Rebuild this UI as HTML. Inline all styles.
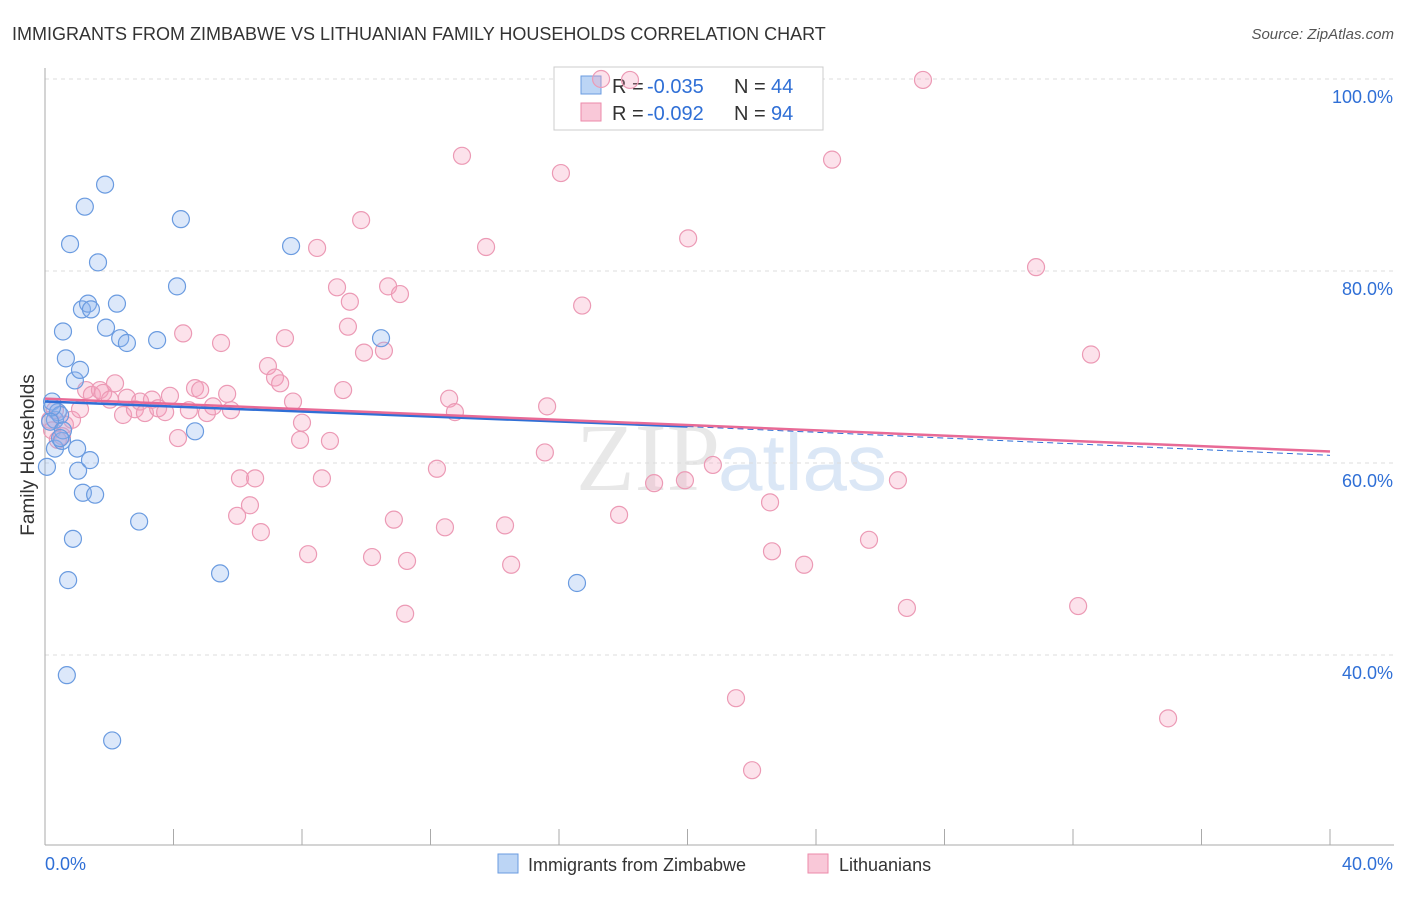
<!DOCTYPE html>
<html><head><meta charset="utf-8"><style>
body{margin:0;background:#fff;font-family:"Liberation Sans",sans-serif;}
</style></head><body>
<svg id="c" width="1406" height="892" xmlns="http://www.w3.org/2000/svg">
<text x="12" y="40" font-size="18" fill="#333">IMMIGRANTS FROM ZIMBABWE VS LITHUANIAN FAMILY HOUSEHOLDS CORRELATION CHART</text>
<text x="1394" y="39" font-size="15" fill="#555" font-style="italic" text-anchor="end">Source: ZipAtlas.com</text>
<text x="720" y="490" font-size="96" fill="#e8e8e8" font-family="Liberation Serif,serif" text-anchor="end">ZIP</text>
<text x="718" y="490" font-size="80" fill="#dbe7f6">atlas</text>
<g id="grid"></g>
<g id="axes"></g>
<g>
<rect x="554" y="67" width="269" height="63" fill="#fff" stroke="#ccc"/>
<rect x="581" y="76" width="20" height="18" fill="#bcd5f5" stroke="#6a9be0"/>
<rect x="581" y="103" width="20" height="18" fill="#f9c8d8" stroke="#ec8aaa"/>
<text x="612" y="93" font-size="20" fill="#333">R =</text>
<text x="647" y="93" font-size="20" fill="#2f6fd6">-0.035</text>
<text x="734" y="93" font-size="20" fill="#333">N =</text>
<text x="771" y="93" font-size="20" fill="#2f6fd6">44</text>
<text x="612" y="120" font-size="20" fill="#333">R =</text>
<text x="647" y="120" font-size="20" fill="#2f6fd6">-0.092</text>
<text x="734" y="120" font-size="20" fill="#333">N =</text>
<text x="771" y="120" font-size="20" fill="#2f6fd6">94</text>
</g>
<g id="pts"></g>
<g id="lines"></g>
<text x="34" y="455" font-size="19" fill="#333" text-anchor="middle" transform="rotate(-90 34 455)">Family Households</text>
<g>
<rect x="498" y="854" width="20" height="19" fill="#bcd5f5" stroke="#6a9be0"/>
<text x="528" y="871" font-size="18" fill="#333">Immigrants from Zimbabwe</text>
<rect x="808" y="854" width="20" height="19" fill="#f9c8d8" stroke="#ec8aaa"/>
<text x="839" y="871" font-size="18" fill="#333">Lithuanians</text>
</g>
</svg>
<script>
const blueX=[0.06,0.22,0.31,0.40,0.47,0.31,0.53,0.56,0.65,0.78,0.87,0.72,0.68,0.93,1.00,1.03,1.09,1.15,1.24,1.18,1.34,1.43,1.56,1.40,1.65,1.87,1.90,2.24,2.34,2.55,2.09,2.93,3.49,4.23,4.11,4.67,5.45,7.66,10.46,16.56,0.22,0.16,0.56,0.47];
const blueY=[59.6,66.4,64.5,65.3,65.0,61.5,62.3,73.7,70.9,82.8,52.1,47.8,37.9,68.6,61.5,59.2,69.7,76.0,86.7,56.9,76.6,76.0,56.7,60.3,80.9,89.0,74.1,76.6,73.0,72.5,31.1,53.9,72.8,85.4,78.4,63.3,48.5,82.6,73.0,47.5,65.8,64.3,63.4,62.6];
const pinkX=[0.16,0.22,0.31,0.40,0.53,0.62,0.84,1.09,1.28,1.46,1.71,1.81,2.02,2.18,2.43,2.55,2.80,2.96,3.11,3.33,3.52,3.74,3.89,4.14,4.30,4.48,4.67,4.83,5.04,5.23,5.48,5.67,5.79,6.07,6.38,6.54,5.98,6.72,6.94,7.16,7.32,7.47,7.72,8.00,7.94,8.19,8.47,8.62,8.87,9.09,9.28,9.43,9.49,9.84,9.93,10.18,10.55,10.68,10.86,11.05,11.27,11.21,12.20,12.45,12.58,12.76,12.98,13.73,14.32,14.51,15.56,15.63,16.06,16.72,17.87,17.31,18.21,18.96,19.92,20.02,20.79,21.51,22.01,22.57,22.63,23.63,24.50,25.65,26.55,26.83,27.33,30.85,32.16,32.56,34.96];
const pinkY=[64.5,63.4,65.5,62.4,62.8,64.0,64.5,65.6,67.6,67.1,67.6,67.3,66.6,68.3,65.0,66.8,65.6,66.4,65.2,66.6,65.7,65.3,67.0,62.6,73.5,65.5,67.8,67.6,65.2,65.9,72.5,67.2,65.5,58.4,55.6,58.4,54.5,52.8,70.1,68.9,68.3,73.0,66.4,64.2,62.4,50.5,82.4,58.4,62.3,78.3,67.6,74.2,76.8,85.3,71.5,50.2,71.7,78.4,54.1,77.6,49.8,44.3,59.4,53.3,66.7,65.3,92.0,82.5,53.5,49.4,61.1,65.9,90.2,76.4,54.6,100.0,99.9,57.9,58.2,83.4,59.8,35.5,28.0,55.9,50.8,49.4,91.6,52.0,58.2,44.9,99.9,80.4,45.1,71.3,33.4];
const X0=45,X1=1330,YT=79;
const xs=v=>X0+(X1-X0)*v/40;
const ys=v=>YT+(100-v)*9.6;
const NS='http://www.w3.org/2000/svg';
function mk(t,a,p){const e=document.createElementNS(NS,t);for(const k in a)e.setAttribute(k,a[k]);p.appendChild(e);return e;}
const grid=document.getElementById('grid'),axes=document.getElementById('axes');
const yTicks=[100,80,60,40];
const yLabels=['100.0%','80.0%','60.0%','40.0%'];
yTicks.forEach((v,i)=>{
 const l=mk('line',{x1:X0,x2:1394,y1:ys(v),y2:ys(v),stroke:'#ddd','stroke-dasharray':'4,4'},grid);
 
 
 const t=mk('text',{x:1393,y:ys(v)+24,'font-size':18,fill:'#2f6fd6','text-anchor':'end'},axes);
 t.textContent=yLabels[i];
 
 
});
mk('line',{x1:X0,x2:X0,y1:68,y2:845,stroke:'#aaa'},axes);
mk('line',{x1:X0,x2:1394,y1:845,y2:845,stroke:'#aaa'},axes);
for(let i=0;i<=10;i++){const x=xs(i*4);const tk=mk('line',{x1:x,x2:x,y1:829,y2:845,stroke:'#aaa'},axes);
 
 }
const xl0=mk('text',{x:45,y:870,'font-size':18,fill:'#2f6fd6'},axes);xl0.textContent='0.0%';


const xl1=mk('text',{x:1393,y:870,'font-size':18,fill:'#2f6fd6','text-anchor':'end'},axes);xl1.textContent='40.0%';


const pts=document.getElementById('pts');
pinkX.forEach((x,i)=>{const c=mk('circle',{cx:xs(x),cy:ys(pinkY[i]),r:8.5,fill:'rgba(244,160,190,0.3)',stroke:'#ec9ab5','stroke-width':1.2},pts);
 
 });
blueX.forEach((x,i)=>{const c=mk('circle',{cx:xs(x),cy:ys(blueY[i]),r:8.5,fill:'rgba(140,180,240,0.3)',stroke:'#6a9be0','stroke-width':1.2},pts);
 
 });
const lines=document.getElementById('lines');
const bl=mk('line',{x1:xs(0),y1:ys(66.4),x2:xs(20),y2:ys(63.8),stroke:'#2f6fd6','stroke-width':2.5},lines);


const bd=mk('line',{x1:xs(20),y1:ys(63.8),x2:xs(40),y2:ys(60.8),stroke:'#2f6fd6','stroke-width':1,'stroke-dasharray':'6,4'},lines);


const pl=mk('line',{x1:xs(0),y1:ys(66.7),x2:xs(40),y2:ys(61.2),stroke:'#e86a96','stroke-width':2.5},lines);


</script>
</body></html>
